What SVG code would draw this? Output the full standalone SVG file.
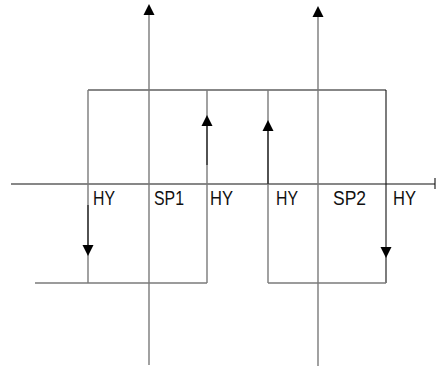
<svg xmlns="http://www.w3.org/2000/svg" width="436" height="368" viewBox="0 0 436 368">
<style>
.g{stroke:#7a7a7a;stroke-width:1.4;fill:none}
.k{stroke:#111;stroke-width:1.1;fill:none}
.ah{fill:#000;stroke:none}
text{font-family:"Liberation Sans",Arial,sans-serif;font-size:20px;fill:#111}
</style>
<defs>
<path id="up" class="ah" d="M0,0 L-5.5,11 L5.5,11 Z"/>
<path id="down" class="ah" d="M0,0 L-5.5,-11 L5.5,-11 Z"/>
</defs>
<rect width="436" height="368" fill="#fff"/>
<g id="connectors">
<line class="k" x1="11" y1="184" x2="435" y2="184"/>
<line class="k" x1="435" y1="178" x2="435" y2="189" stroke-width="2"/>
<line class="k" x1="88" y1="90" x2="386" y2="90"/>
<line class="g" x1="88" y1="90" x2="88" y2="283"/>
<line class="k" x1="88" y1="205" x2="88" y2="246"/>
<line class="k" x1="386" y1="90" x2="386" y2="283"/>
<line class="g" x1="207" y1="90" x2="207" y2="283"/>
<line class="k" x1="207" y1="125" x2="207" y2="165"/>
<line class="g" x1="268" y1="90" x2="268" y2="283"/>
<line class="k" x1="268" y1="130" x2="268" y2="184"/>
<line class="g" x1="35" y1="283" x2="207" y2="283"/>
<line class="g" x1="268" y1="283" x2="386" y2="283"/>
<line class="g" x1="149" y1="12" x2="149" y2="365"/>
<line class="g" x1="318" y1="14" x2="318" y2="366"/>
<use href="#up" x="149" y="4"/>
<use href="#up" x="318" y="6"/>
<use href="#up" x="207" y="115"/>
<use href="#up" x="268" y="120"/>
<use href="#down" x="88" y="256"/>
<use href="#down" x="386" y="258"/>
</g>
<g id="labels">
<text x="93" y="204.5" textLength="22" lengthAdjust="spacingAndGlyphs">HY</text>
<text x="154" y="204.5" textLength="30" lengthAdjust="spacingAndGlyphs">SP1</text>
<text x="210" y="204.5" textLength="23" lengthAdjust="spacingAndGlyphs">HY</text>
<text x="276" y="204.5" textLength="22" lengthAdjust="spacingAndGlyphs">HY</text>
<text x="333" y="204.5" textLength="33" lengthAdjust="spacingAndGlyphs">SP2</text>
<text x="393" y="204.5" textLength="23" lengthAdjust="spacingAndGlyphs">HY</text>
</g>
</svg>
